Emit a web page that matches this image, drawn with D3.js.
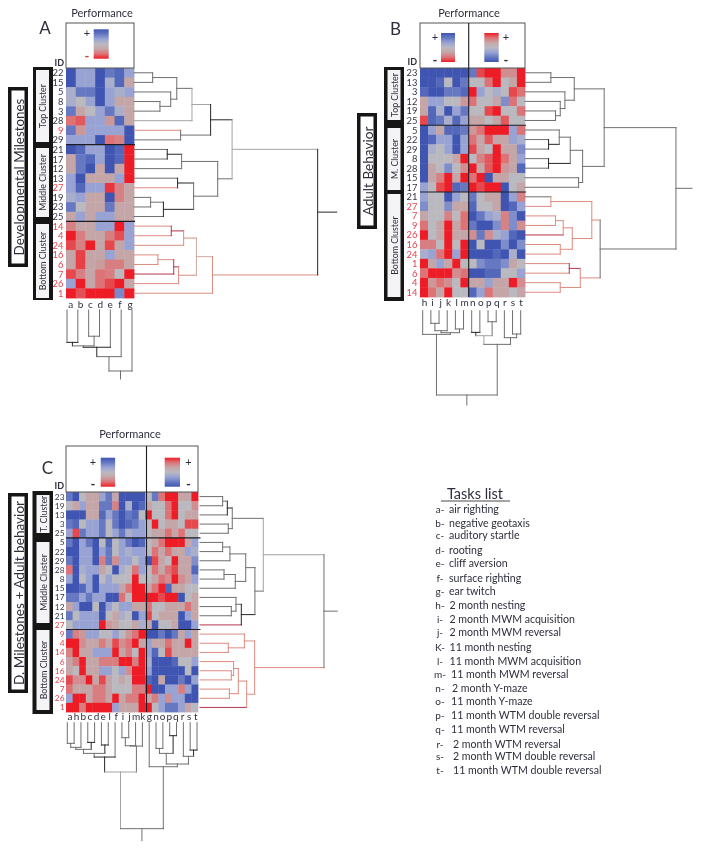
<!DOCTYPE html>
<html><head><meta charset="utf-8">
<script src="https://cdn.jsdelivr.net/npm/d3@7"></script>
<style>html,body{margin:0;padding:0;background:#fff}svg{display:block}text{font-family:Lato,"Open Sans",sans-serif;fill:#2e2f3d}</style>
</head><body><svg id="c" width="701" height="852"></svg>
<script>
// ---------- DATA ----------
const redIds=[27,9,14,4,24,16,6,7,26,1];
const scoreLevels=[-3,-2,-1,0,1,2,3];
const scoreColors=["#ee1c25","#dd7376","#c4a6a8","#b9b9bf","#98a3d4","#6678c2","#3f55b2"];

const rowsA=[22,15,5,8,3,28,9,29,21,17,12,13,27,19,23,25,14,4,24,16,6,7,26,1];
const colsA=["a","b","c","d","e","f","g"];
const valuesA=[
[3,1,1,3,2,2.5,1],[3,1,1,3,0.5,2.5,-1],[0.5,2,2,3,1,0.5,1],[0.5,0,1,3,1,-1,-1],
[2,-1,0,1,2,0.5,-1],[-2,-2.3,1,1,-1.3,2.5,-1],[2,-1.3,1,1,1,1,3],[1,1,1,3,-2,-1.7,3],
[3,2.5,1,1,3,2.5,-3],[-1,2,2.5,1,3,2.5,-3],[-1,2,3,-1,3,-1,-3],[1,3,-1,-1,-1,1,-3],
[1,2.5,1,1,-2.7,-1.7,-1],[0.5,1,-1,-1,3,-1.7,-1],[2,0,-1,-1,2,-1,-1],[-1,1,-1,1,1,-1,-1],
[-1.7,-1,-1,1,1,-3,1],[-3,-1.8,-1,-1,-1.8,-2.4,1],[-2.5,-1.7,-3,-1,-2.5,-1,1],[-1,-2.6,-1,-1,1,-1,-1],
[-1,-2.6,-1,-1.2,-1.8,-1.8,-1],[-2.5,-1.7,-1,-2,-1.8,0,-3],[1,-3,-1,-2,-2.5,-3,-1],[-3,-2.4,-3,-3,-3,1.6,-3]];

const rowsB=[23,13,3,12,19,25,5,22,29,8,28,15,17,21,27,7,9,26,16,24,1,6,4,14];
const colsB=["h","i","j","k","l","m","n","o","p","q","r","s","t"];
const valuesB=[
[3,3,3,3,3,3,2,-2.5,-3,-3,-1.5,-1.5,-3],[3,3,2.5,0,3,2,0,0,-2,-3,0,-1,-3],
[2.5,3,3,2,2,2.5,-3,1,0,0.5,0,-2.5,-2],[-1,1,1,0,0,-1.3,-2,0,0,-1,1.5,-2,0],
[-1,2.5,0.5,3,1,2,0,0,-2.5,-3,0,0,-2],[-2.5,2.5,2,0.5,2.5,1,-1,-1,0,-1,-2.3,0,0],
[3,1,-1,2.5,2.5,2,-1.3,-2,-3,-3,-3,1,-2],[3,2.5,1,1,3,1,-2,-1,-2.3,-1,-1,1,0.5],
[3,0.5,0,1,3,1,-2.5,-1,0,-3,-1,-1,1.5],[3,0,0,0,-1,-3,0,-1.7,-2.3,-3,-2,-1,1],
[3,-1,0,1.5,0,-1.5,-3,-1,-2.3,-3,-1.3,-1,2.5],[3,-1,-1.7,-3,-1,-3,-2,-3,3,-1,-1,0,0],
[1,0,-2.5,-3,2.5,2,-3,-2.5,-3,-3,3,0,-1],[1,0,0,3,1,0,2,0,-1,-1,3,1,-1.7],
[1.5,0,0,1.5,-1,-1,2.5,0,0,-1,3,2.5,1],[-1,0,0,-1.7,0,-2,3,2,1,0.5,-1.7,1.5,3],
[-2,0,-1,-3,-1,-2,2,3,3,1.5,-1.7,1.5,-1.5],[-3,0,-1,-3,-1,-1,-1.5,2,-1.5,0.5,1,2.5,3],
[-1.8,-1.8,0,-3,0,-3,3,0,3,3,1.5,3,1.5],[0.5,1,-2,-3,1,-3,3,3,3,2.5,3,0.5,3],
[-3,-1,1,-1,-3,0,0,1.5,2,2,1.5,-1,0],[-2,-3,-3,-3,-1.5,-2,3,3,2.5,2.5,0,0,1],
[-3,-1.3,-2,-1.5,0,-3,-1,-1,1,-1,-1,-3,-1.5],[-3,-2,-1,-3,0,0,2.5,1,-2,-1,-1,0,-1]];

const rowsC=[23,19,13,3,25,5,22,29,28,8,15,17,12,21,27,9,4,14,6,16,24,7,26,1];
const colsC=["a","h","b","c","d","e","l","f","i","j","m","k","g","n","o","p","q","r","s","t"];
const valuesC=[
[2,3,0,-1,-1,1,2,-1,3,3,3,3,0,2,-2,-3,-3,-1,-1,-3],
[0,-1,1,-1,-1,2,2,-1.7,3,0.5,3,2.5,-1,0,0,-2,-3,0,0,-1.5],
[3,3,3,-1,-1,2.5,1,2,3,2,2.5,0,-3,0,0,-2,-3,0,-1,-1],
[2,2.5,0,1,1,2,0,2,3,2.5,2,1,0,-3,0,-1,-1,0,-2.5,-2.5],
[1,-2.5,2,1,1,2,0,1,2,0.5,1,1,0,-1,-1,-2,-1,-2,0,0],
[2,3,1,2,3,0,2.5,0,1,2,3,2.5,0,-1,-2,-3,-3,-3,-1,1],
[3,3,1,1,3,1,2,0,1,0.5,1,1,0,-2,-1,-2,-1,-1,1,0.5],
[2,3,1,1,3,-1.8,2,-1.5,1,1,0,1,3,-2.5,-1,0,-3,-1,-1,1.5],
[-2,3,0.5,1,1,-1,0,3,0.5,0,-2,1,0,-2,-1,-2,-2.5,-1,-1,2.5],
[1,3,0,1,3,0,1,0,0,0,-3,0,0,-1,-2,-1.5,-3,-1.5,-1,1],
[3,3,2.5,1,3,1,1,1,-1,-2,-3,-3,-1,-2,-3,2.5,-1,-1,0,0],
[2,2,1,2,1,1,3,3,-2,0,-3,-3,-3,-3,-2.5,-3,-3,3,0,-1],
[-1,1,3,3,0,3,1,0,1,1,-1,-1,-2,0,0,-1,-1,-1,-2,-1],
[2,0,1,1,1,3,0,-1,0.5,0,3,1,-2.5,0,-1,-1,-1,3,1,-1],
[0,1,1,1,1,-3,-1.3,-1,0,0,-1,0.5,-1,3,0,0,-1,3,3,1],
[2,-1.7,-1.3,1,1,0,0,1,0,-1.3,-2,-3,3,3,2,3,2,-1,1,-1],
[-3,-3,-1.5,-1,-1,-1.8,-1,-2.5,-1.5,-2,-3,-1,1,-1,-1,-2,-1,-1,-3,-1],
[-1.7,-3,-1,-1,1,1,1,-3,-1,-1.8,0,-3,1,2.5,0,-2.5,-1,-1,-1,-1],
[-1,-1.8,-3,-1,-1,-1.8,-1.8,-1.8,-3,-3,-1.8,-3,0.5,3,3,3,2.5,0,0,1],
[-1,0,-3,-1,-1,1,1,0,1,-1.5,-3,-3,1,3,3,3,3,3,0,3],
[-2.5,-1.5,-1.5,-3,-1,-2.5,-1,0,-1,0,-3,-3,2.5,3,-1,3,3,2,3,1],
[-2,-1,-1,-1,-1.8,-1.8,-1,0,0,0,-1.8,-1.8,-3,3,3,1,1,-1.8,1,3],
[1,-3,-3,-1,-1.8,-1.8,-1,-3,-1,-1.8,-1.8,-3,-1,-1.8,1,-1.5,1,1,3,3],
[-3,-3,-1.8,-3,-3,-3,-3,1,-1,-1,-1,-3,-3,0,1,2,2,1,-1,0]];

// Dendrograms: [merge distance, tint, child, child]; leaves are row IDs or task letters
const treeRowA=[90.6,"k",
 [48.4,"l",
  [37.8,"k",[28.6,"l",[21.1,"g",[9.2,"g",22,15],[18.1,"g",5,[12.8,"g",8,3]]],28],[23,"g",9,29]],
  [41.3,"g",[23.5,"g",[16.4,"k",21,17],12],[29.4,"g",[21.5,"k",13,27],[14.5,"k",[8.2,"g",19,23],25]]]],
 [38.7,"r",[30.8,"p",[24.5,"r",[18.4,"d",14,4],24],[22,"r",[19.6,"d",[11.8,"r",16,6],7],26]],1]];
const treeColA=[88.4,"g",[67.6,"g",[54,"k",[52,"g",[46.9,"k",colsA[0],colsA[1]],[38,"g",colsA[2],colsA[3]]],colsA[4]],colsA[5]],colsA[6]];

const treeRowB=[90.4,"g",
 [47.4,"g",
  [29.5,"g",[15.5,"g",23,13],[23.9,"g",3,[21.1,"g",12,[18.3,"g",19,25]]]],
  [34.5,"g",[27.1,"g",[20.5,"g",5,[14.1,"k",22,29]],[14.1,"k",8,28]],[32.1,"g",15,17]]],
 [45,"g",
  [40,"r",[15.5,"r",21,27],[28.3,"r",[22.9,"r",[18.3,"r",7,9],26],[21.1,"r",16,24]]],
  [33.1,"r",[26.5,"d",1,6],[21.1,"r",4,14]]]];
const treeColB=[89.4,"g",
 [25.1,"g","h",[23.3,"g",[21.2,"g",[13.4,"g","i","j"],"k"],[19.4,"g","l","m"]]],
 [35.7,"g",[26.5,"l",[23,"k","n","o"],[11.7,"g","p","q"]],[28.6,"g","r",[24.7,"g","s","t"]]]];

const treeRowC=[90.3,"g",
 [46.1,"l",
  [23.5,"g",[19.9,"k",[16.5,"g",23,19],13],[20.6,"g",3,25]],
  [40,"g",[33.3,"g",[21.8,"g",[16.5,"g",5,22],29],[25.7,"g",[17.5,"g",28,8],15]],
          [30.1,"k",[26.2,"g",[22.8,"g",12,21],17],27]]],
 [39.8,"r",
  [32.3,"r",9,[20.6,"r",4,14]],
  [34,"r",[27.9,"r",[24.5,"r",[22.8,"r",16,24],6],[21.4,"r",7,26]],1]]];
const treeColC=[89.8,"g",
 [41.8,"l",[29.1,"k",[26,"g",[22.6,"g",[20.9,"g",[17.5,"g","a","h"],"b"],[16.7,"k","c","d"]],[18.9,"k","e","l"]],"f"],
           [19.8,"g",[19.5,"g",[12.7,"g","i","j"],"m"],"k"]],
 [37.3,"g","g",[35,"g",[26,"g",[21.8,"g","n","o"],[11,"k","p","q"]],[28.5,"g","r",[23.2,"k","s","t"]]]]];

const taskLetters=["a-","b-","c-","d-","e-","f-","g-","h-","i-","j-","K-","l-","m-","n-","o-","p-","q-","r-","s-","t-"];
const taskNames=["air righting","negative geotaxis","auditory startle","rooting","cliff aversion","surface righting","ear twitch","2 month nesting","2 month MWM acquisition","2 month MWM reversal","11 month nesting","11 month MWM acquisition","11 month MWM reversal","2 month Y-maze","11 month Y-maze","11 month WTM double reversal","11 month WTM reversal","2 month WTM reversal","2 month WTM double reversal","11 month WTM double reversal"];
const taskRows=[509.3,522.7,535.3,550,563.3,578,591,604.7,619,631.5,646.7,661,673.7,688,701,715,729,743.7,756,769.7];
const taskTextX=[449,449,449,449,449,449,449,449.5,449.5,449.5,449.5,449.5,451,452,451,451,451,453,453,453];
const taskLetterX=[440,440,440,440,440,440,440,440,440,440,440,440,440,440,440,440,440,440,440,440];

// ---------- DRAW ----------
const svg=d3.select("#c");
const defs=svg.append("defs");
defs.append("filter").attr("id","soft").attr("x","0").attr("y","0").attr("width","1").attr("height","1")
  .append("feGaussianBlur").attr("stdDeviation",0.4);
const root=svg.append("g").attr("filter","url(#soft)");
root.append("rect").attr("width",701).attr("height",852).attr("fill","#fff");

const color=d3.scaleLinear().domain(scoreLevels).range(scoreColors);
const tints={k:"#262626",g:"#6f6f6f",l:"#a3a3a3",r:"#dd8b80",p:"#cfa99f",d:"#b5344a"};
const legendGrid=d3.range(-3,3.01,0.5);
const legendDown=legendGrid.slice().reverse();
[["blueTop",legendDown],["redTop",legendGrid]].forEach(([id,vals])=>{
  defs.append("linearGradient").attr("id",id).attr("x1",0).attr("x2",0).attr("y1",0).attr("y2",1)
    .selectAll("stop").data(vals).join("stop")
    .attr("offset",(d,k)=>k/(vals.length-1))
    .attr("stop-color",d=>color(d));
});

function txt(x,y,s,o={}){
  const t=root.append("text").attr("x",x).attr("y",y).text(s)
    .attr("font-size",o.size||10).attr("text-anchor",o.anchor||"middle")
    .attr("dominant-baseline","central");
  if(o.fill)t.style("fill",o.fill);
  if(o.weight)t.attr("font-weight",o.weight);
  if(o.rot)t.attr("transform",`rotate(-90 ${x} ${y})`);
  return t;
}
function tree(t,pos,tintLeaf,segs,parent){
  if(!Array.isArray(t)){
    const p=pos(t);
    segs.push({at:p,a:0,b:parent,horiz:true,c:tintLeaf(t)});
    return p;
  }
  const [d,tint,l,r]=t;
  const pl=tree(l,pos,tintLeaf,segs,d), pr=tree(r,pos,tintLeaf,segs,d);
  segs.push({at:d,a:pl,b:pr,horiz:false,c:tints[tint]});
  const m=(pl+pr)/2;
  segs.push({at:m,a:d,b:parent,horiz:true,c:tints[tint]});
  return m;
}
function panel(p){
  const x=d3.scaleBand().domain(p.cols).range(p.heatX);
  const y=d3.scaleBand().domain(p.rows).range(p.heatY);
  const g=root.append("g");
  g.selectAll("g").data(p.values).join("g").selectAll("rect")
    .data((row,i)=>row.map((v,j)=>({v,r:p.rows[i],c:p.cols[j]})))
    .join("rect").attr("x",d=>x(d.c)).attr("y",d=>y(d.r))
    .attr("width",x.bandwidth()+0.4).attr("height",y.bandwidth()+0.4)
    .attr("fill",d=>color(d.v));
  p.splits.forEach(id=>{
    g.append("line").attr("x1",p.heatX[0]).attr("x2",p.lineEnd).attr("y1",y(id)).attr("y2",y(id))
     .attr("stroke","#1c1c22").attr("stroke-width",1.1);
  });
  g.append("rect").attr("x",p.heatX[0]).attr("y",p.boxTop).attr("width",p.heatX[1]-p.heatX[0]).attr("height",p.heatY[0]-p.boxTop)
    .attr("fill","none").attr("stroke","#555").attr("stroke-width",1);
  if(p.divider){
    g.append("line").attr("x1",p.divider).attr("x2",p.divider).attr("y1",p.boxTop).attr("y2",p.heatY[1])
     .attr("stroke","#1c1c22").attr("stroke-width",1.1);
  }
  p.legends.forEach(l=>{
    g.append("rect").attr("x",l.x).attr("y",l.y).attr("width",l.w).attr("height",l.h)
     .attr("fill",`url(#${l.grad})`);
    txt(l.sx,l.y+3.5,"+",{size:11});
    txt(l.sx,l.y+l.h-2.5,"-",{size:13,weight:700,fill:p.name=="A"?"#c8453f":"#333"});
  });
  txt(p.idX,p.idY,"ID",{size:9,anchor:"end",weight:700});
  p.rows.forEach(id=>txt(p.labelX,y(id)+y.bandwidth()/2,id,{size:p.labelSize,anchor:"end",fill:redIds.includes(id)?"#e8434f":"#34354a"}));
  const lx=d3.scalePoint().domain(p.cols).range(p.labelRange);
  p.cols.forEach(c=>txt(lx(c),p.labelY,c,{size:10}));
  txt(p.perfX,p.perfY,"Performance",{size:11});
  txt(p.letterX,p.letterY,p.name,{size:17});
  const rowDist=d3.scaleLinear().domain([0,100]).range(p.rowDend);
  const rowCenter=id=>y(id)+y.bandwidth()/2;
  const rowTint=id=>p.darkRed.includes(id)?tints.d:redIds.includes(id)?tints.r:(p.lightRow.includes(id)?tints.l:tints.g);
  const rs=[]; tree(p.rowTree,rowCenter,rowTint,rs,100);
  g.append("g").selectAll("line").data(rs).join("line")
    .attr("x1",d=>d.horiz?rowDist(d.a):rowDist(d.at)).attr("x2",d=>d.horiz?rowDist(d.b):rowDist(d.at))
    .attr("y1",d=>d.horiz?d.at:d.a).attr("y2",d=>d.horiz?d.at:d.b)
    .attr("stroke",d=>d.c).attr("stroke-width",1).attr("stroke-linecap","square");
  const colDist=d3.scaleLinear().domain([0,100]).range(p.colDend);
  const colPos=d3.scalePoint().domain(p.cols).range(p.colLeaf);
  const cs=[]; tree(p.colTree,colPos,()=>tints.g,cs,100);
  g.append("g").selectAll("line").data(cs).join("line")
    .attr("y1",d=>d.horiz?colDist(d.a):colDist(d.at)).attr("y2",d=>d.horiz?colDist(d.b):colDist(d.at))
    .attr("x1",d=>d.horiz?d.at:d.a).attr("x2",d=>d.horiz?d.at:d.b)
    .attr("stroke",d=>d.c).attr("stroke-width",1).attr("stroke-linecap","square");
  const o=p.outer;
  g.append("rect").attr("x",o.x+1.75).attr("y",o.y+1.75).attr("width",o.w-3.5).attr("height",o.h-3.5)
    .attr("fill","#fff").attr("stroke","#141414").attr("stroke-width",3.5);
  txt(o.x+o.w/2+0.5,o.y+o.h/2,o.text,{size:o.size,rot:true});
  const s=p.strip;
  g.append("rect").attr("x",s.x).attr("y",s.y).attr("width",s.w).attr("height",s.h).attr("fill","#141414");
  s.boxes.forEach(b=>{
    g.append("rect").attr("x",s.ix).attr("y",b.y).attr("width",s.iw).attr("height",b.h).attr("fill","#f4f4f6");
    txt(s.ix+s.iw/2,b.y+b.h/2,b.t,{size:8.8,rot:true});
  });
}
panel({name:"A",rows:rowsA,cols:colsA,values:valuesA,rowTree:treeRowA,colTree:treeColA,labelSize:9.4,
  heatX:[66,134],heatY:[68,298],lineEnd:135,splits:[21,14],boxTop:23,
  legends:[{x:93.7,y:29.3,w:15,h:29.4,grad:"blueTop",sx:87}],
  idX:64,idY:62.5,labelX:63.5,labelRange:[70.7,130],labelY:304,perfX:102,perfY:12.5,letterX:45,letterY:27,
  rowDend:[134,336.7],colDend:[310,379],colLeaf:[67,132],darkRed:[7],lightRow:[28],
  outer:{x:8,y:87,w:20,h:180,text:"Developmental Milestones",size:13.4},
  strip:{x:33,y:67,w:20,h:233,ix:36,iw:13,boxes:[{y:70,h:72,t:"Top Cluster"},{y:148,h:69,t:"Middle Cluster"},{y:224,h:74,t:"Bottom Cluster"}]}});
panel({name:"B",rows:rowsB,cols:colsB,values:valuesB,rowTree:treeRowB,colTree:treeColB,labelSize:9.4,
  heatX:[420,525],heatY:[68,297],lineEnd:526,splits:[5,21],boxTop:23,divider:468.7,
  legends:[{x:441,y:33,w:14,h:29,grad:"blueTop",sx:435},{x:484.3,y:33,w:14.4,h:29,grad:"redTop",sx:506}],
  idX:417,idY:61.5,labelX:417.5,labelRange:[424.5,521],labelY:302,perfX:469,perfY:12.5,letterX:395.5,letterY:28,
  rowDend:[525,692],colDend:[310.7,405],colLeaf:[422.7,520.7],darkRed:[26],lightRow:[],
  outer:{x:357,y:113,w:20,h:116,text:"Adult Behavior",size:13.6},
  strip:{x:384,y:67,w:20,h:234,ix:387.5,iw:13,boxes:[{y:70,h:50,t:"Top Cluster"},{y:128,h:62,t:"M. Cluster"},{y:194,h:103,t:"Bottom Cluster"}]}});
panel({name:"C",rows:rowsC,cols:colsC,values:valuesC,rowTree:treeRowC,colTree:treeColC,labelSize:8.4,
  heatX:[66,198],heatY:[492,712],lineEnd:200.5,splits:[5,9],boxTop:446,divider:146.5,
  legends:[{x:100.7,y:457.7,w:14.4,h:29,grad:"blueTop",sx:93},{x:164.7,y:457.7,w:15.3,h:29,grad:"redTop",sx:188.5}],
  idX:64,idY:485.5,labelX:64.5,labelRange:[70,195.7],labelY:716,perfX:130,perfY:433,letterX:47.5,letterY:467,
  rowDend:[200,337.3],colDend:[722.7,840.7],colLeaf:[67.3,197],darkRed:[27,1],lightRow:[],
  outer:{x:8,y:493,w:20,h:200,text:"D. Milestones + Adult behavior",size:13.6},
  strip:{x:32.5,y:491,w:20.5,h:223,ix:36.5,iw:13,boxes:[{y:495,h:38,t:"T. Cluster"},{y:542,h:81,t:"Middle Cluster"},{y:630,h:80,t:"Bottom Cluster"}]}});

// Tasks list
txt(475,493,"Tasks list",{size:14.5});
root.append("line").attr("x1",441).attr("x2",510).attr("y1",501).attr("y2",501).attr("stroke","#333").attr("stroke-width",0.9);
root.append("g").selectAll("text").data(taskNames).join("text")
  .attr("x",(d,i)=>taskTextX[i]).attr("y",(d,i)=>taskRows[i]).attr("font-size",10.6)
  .attr("dominant-baseline","central").text(d=>d);
root.append("g").selectAll("text").data(taskLetters).join("text")
  .attr("x",(d,i)=>taskLetterX[i]).attr("y",(d,i)=>taskRows[i]).attr("font-size",10).attr("text-anchor","middle")
  .attr("dominant-baseline","central").text(d=>d);
</script></body></html>
